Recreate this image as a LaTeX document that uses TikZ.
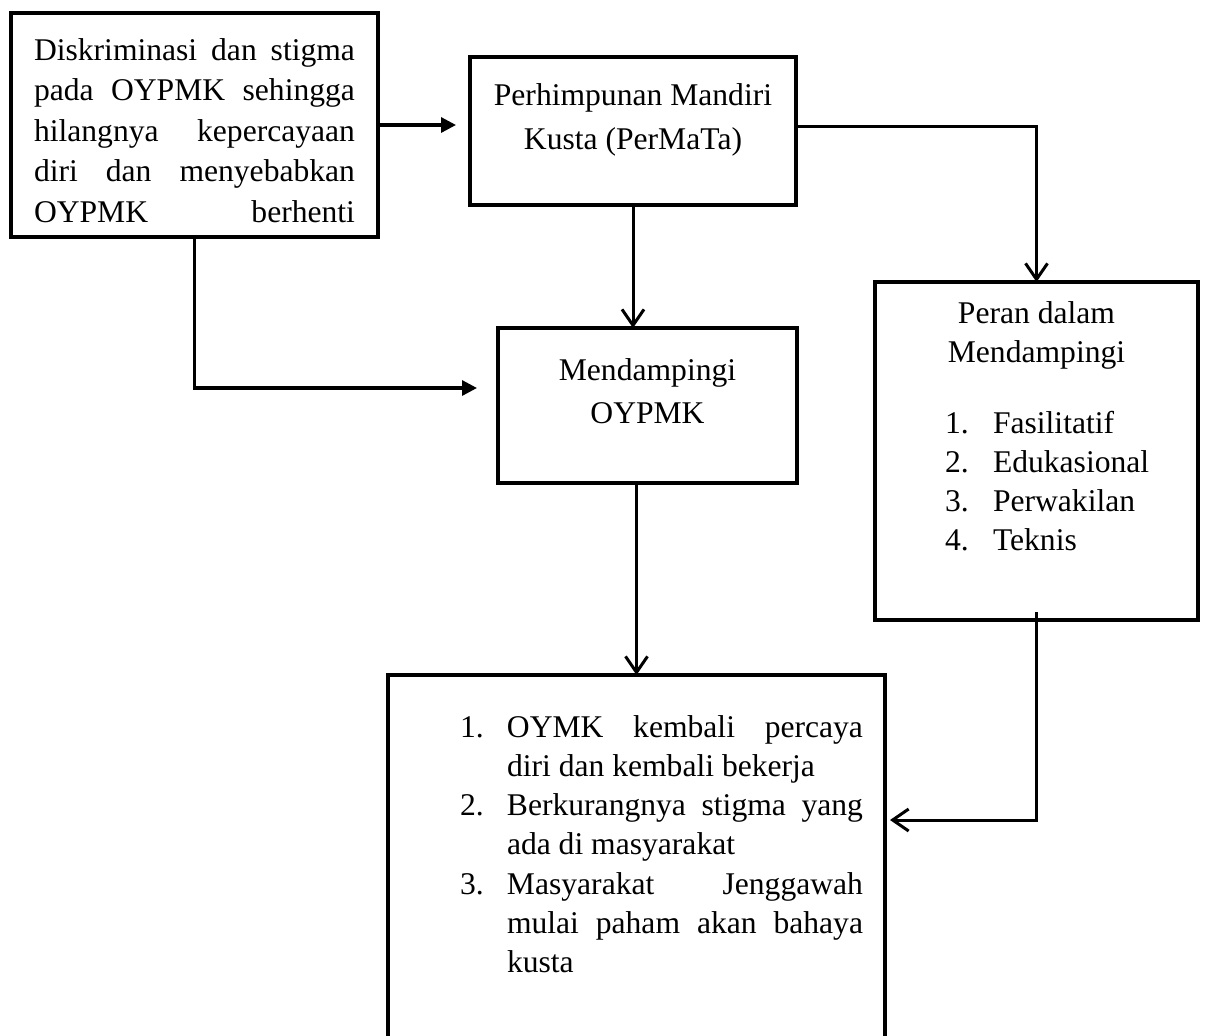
\documentclass[tikz,border=0pt]{standalone}
\usepackage{fontspec}
\setmainfont{Liberation Serif}
\usetikzlibrary{arrows.meta}

\newcommand{\topline}{\rule{0pt}{11pt}}
\newcommand{\boxtext}[4]{\parbox[c][#2][t]{#1}{\vspace*{#3}#4}}

\begin{document}
\begin{tikzpicture}[x=0.5pt, y=-0.5pt,
  box/.style={draw, line width=2pt, inner sep=0pt, outer sep=0pt, anchor=north west},
  flow/.style={line width=1.5pt, -{Straight Barb[length=8pt,width=11pt,line width=1.5pt]}},
  feed/.style={line width=1.6pt, -{Triangle[length=7.5pt,width=7.5pt]}},
]
  \useasboundingbox (0,0) rectangle (1205,1035);

  \node[box] (disc) at (11,13) {\boxtext{183.5pt}{112pt}{12.5pt}{%
    \centering\fontsize{15.8pt}{20.25pt}\selectfont
    \topline\makebox[160.5pt][s]{Diskriminasi dan stigma}\\
    \makebox[160.5pt][s]{pada OYPMK sehingga}\\
    \makebox[160.5pt][s]{hilangnya kepercayaan}\\
    \makebox[160.5pt][s]{diri dan menyebabkan}\\
    \makebox[160.5pt][s]{OYPMK berhenti}}};

  \node[box] (permata) at (470,57) {\boxtext{163pt}{74pt}{13pt}{%
    \centering\fontsize{15.8pt}{22pt}\selectfont
    \topline Perhimpunan Mandiri\\Kusta (PerMaTa)}};

  \node[box] (damping) at (498,328) {\boxtext{149.5pt}{77.5pt}{15pt}{%
    \centering\fontsize{15.8pt}{21.5pt}\selectfont
    \topline Mendampingi\\OYPMK}};

  \node[box] (peran) at (875,282) {\boxtext{161.5pt}{169pt}{9.5pt}{%
    \fontsize{15.8pt}{19.5pt}\selectfont
    {\centering\topline Peran dalam\\Mendampingi\par}
    \vspace{16pt}
    \hspace*{35pt}\makebox[24pt][l]{1.}Fasilitatif\\
    \hspace*{35pt}\makebox[24pt][l]{2.}Edukasional\\
    \hspace*{35pt}\makebox[24pt][l]{3.}Perwakilan\\
    \hspace*{35pt}\makebox[24pt][l]{4.}Teknis}};

  \node[box] (hasil) at (388,675) {\boxtext{248.5pt}{202.5pt}{20pt}{%
    \fontsize{15.8pt}{19.65pt}\selectfont
    \topline\hspace*{36pt}\makebox[23.5pt][l]{1.}\makebox[178pt][s]{OYMK kembali percaya}\\
    \hspace*{59.5pt}diri dan kembali bekerja\\
    \hspace*{36pt}\makebox[23.5pt][l]{2.}\makebox[178pt][s]{Berkurangnya stigma yang}\\
    \hspace*{59.5pt}ada di masyarakat\\
    \hspace*{36pt}\makebox[23.5pt][l]{3.}\makebox[178pt][s]{Masyarakat Jenggawah}\\
    \hspace*{59.5pt}\makebox[178pt][s]{mulai paham akan bahaya}\\
    \hspace*{59.5pt}kusta}};

  % connectors
  \draw[feed, shorten >=7pt] (disc.east) -- (disc.east -| permata.west);
  \draw[feed, shorten >=10.5pt] (disc.south) |- ([yshift=8.75pt]damping.west);
  \draw[flow] (permata.south) -- (permata.south |- damping.north);
  \draw[flow] ([yshift=2.5pt]permata.east) -| (peran.north);
  \draw[flow] (hasil.north |- damping.south) -- (hasil.north);
  \draw[flow, shorten >=2.5pt] ([yshift=4pt]peran.south) |- ([yshift=-72.5pt]hasil.north east);
\end{tikzpicture}
\end{document}
